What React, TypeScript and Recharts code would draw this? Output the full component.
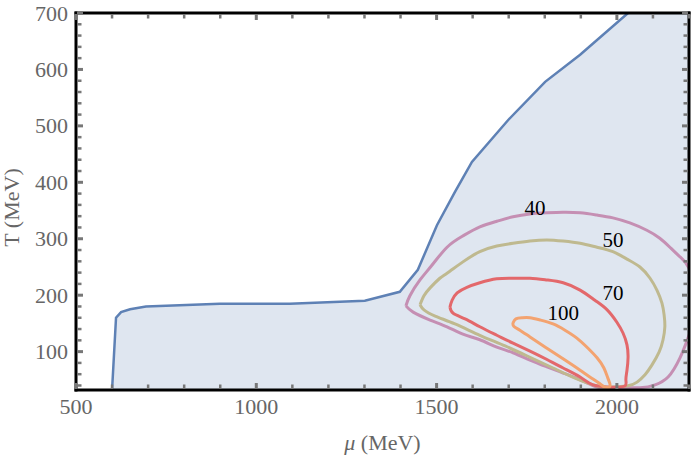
import React from 'react';
import { ComposedChart, Area, Line, XAxis, YAxis, ReferenceDot } from 'recharts';

// phase boundary (blue) – mu in MeV, T in MeV
const blueMu = [600, 611, 625, 650, 694, 899, 1093, 1301, 1398, 1448, 1501, 1551, 1598, 1698, 1801, 1898, 2031];
const blueT = [32, 160, 170, 175, 180, 185, 185, 190, 206, 245, 324, 383, 436, 510, 578, 626, 700];
// top-right corner closes the shaded region
const shadeCornerMu = [2200];
const shadeCornerT = [700];

// contour 40
const c40Mu = [1415, 1426, 1454, 1487, 1529, 1573, 1620, 1667, 1712, 1759, 1806, 1851, 1898, 1945, 1989, 2036, 2083, 2119, 2147, 2175, 2200, 2222, 2200, 2175, 2142, 2106, 2064, 1981, 1945, 1898, 1851, 1806, 1759, 1712, 1667, 1620, 1573, 1529, 1482, 1435, 1415];
const c40T = [181, 199, 227, 253, 285, 305, 321, 331, 339, 344, 346, 347, 346, 342, 337, 328, 315, 301, 285, 268, 248, 191, 129, 89, 55, 41, 36, 36, 37, 50, 62, 73, 85, 98, 108, 121, 131, 144, 156, 170, 181];
// contour 50
const c50Mu = [1454, 1465, 1482, 1509, 1529, 1573, 1620, 1667, 1712, 1759, 1806, 1851, 1898, 1945, 1989, 2028, 2064, 2092, 2111, 2125, 2131, 2133, 2128, 2117, 2097, 2078, 2056, 2028, 1981, 1945, 1884, 1823, 1759, 1690, 1620, 1551, 1496, 1465, 1454];
const c50T = [183, 199, 213, 230, 239, 259, 277, 287, 292, 296, 298, 296, 292, 285, 277, 264, 250, 230, 209, 186, 165, 144, 121, 99, 76, 59, 46, 39, 37, 39, 53, 71, 90, 110, 129, 149, 163, 174, 183];
// contour 70
const c70Mu = [1537, 1543, 1557, 1584, 1620, 1667, 1712, 1759, 1806, 1851, 1898, 1939, 1973, 2000, 2017, 2028, 2031, 2028, 2025, 2022, 1986, 1934, 1898, 1851, 1806, 1759, 1712, 1667, 1620, 1579, 1546, 1537];
const c70T = [179, 191, 204, 214, 222, 229, 230, 230, 227, 222, 209, 191, 174, 152, 133, 112, 90, 67, 50, 39, 37, 41, 55, 71, 86, 101, 115, 129, 144, 158, 168, 179];
// contour 100
const c100Mu = [1712, 1720, 1737, 1759, 1787, 1823, 1856, 1889, 1920, 1945, 1964, 1975, 1981, 1967, 1953, 1925, 1898, 1856, 1806, 1759, 1731, 1714, 1712];
const c100T = [151, 158, 160, 160, 156, 149, 138, 124, 106, 89, 71, 53, 39, 37, 43, 55, 67, 85, 106, 126, 138, 145, 151];

const contourLabels = ['40', '50', '70', '100'];
const contourLabelMu = [1773, 1989, 1989, 1851];
const contourLabelT = [356, 298, 204, 170];

const xTicks = [500, 600, 700, 800, 900, 1000, 1100, 1200, 1300, 1400, 1500, 1600, 1700, 1800, 1900, 2000, 2100, 2200];
const xLabeled = [500, 1000, 1500, 2000];
const yTicks = [40, 60, 80, 100, 120, 140, 160, 180, 200, 220, 240, 260, 280, 300, 320, 340, 360, 380, 400, 420, 440, 460, 480, 500, 520, 540, 560, 580, 600, 620, 640, 660, 680, 700];
const yLabeled = [100, 200, 300, 400, 500, 600, 700];

const zip = (mu: number[], T: number[]) => mu.map((m, i) => ({ mu: m, T: T[i] }));

const blueData = zip(blueMu, blueT);
const shadeData = [...blueData, ...zip(shadeCornerMu, shadeCornerT)];
const contours = [
  { key: 'c40', data: zip(c40Mu, c40T), color: '#c58fb3' },
  { key: 'c50', data: zip(c50Mu, c50T), color: '#bfb98f' },
  { key: 'c70', data: zip(c70Mu, c70T), color: '#e3686b' },
  { key: 'c100', data: zip(c100Mu, c100T), color: '#f3a370' },
];

const SERIF = '"Liberation Serif", "DejaVu Serif", serif';
const TICK_COLOR = '#777';
const LABEL_COLOR = '#666';
const FRAME = { stroke: '#000', strokeWidth: 3, strokeLinecap: 'square' as const };

// inward-pointing frame ticks, drawn from the axis edge
const tickMark = (x1: number, y1: number, dx: number, dy: number, major: boolean) => {
  const len = major ? 6 : 4.5;
  return (
    <line
      x1={x1}
      y1={y1}
      x2={x1 + dx * len}
      y2={y1 + dy * len}
      stroke={TICK_COLOR}
      strokeWidth={major ? 3 : 2.5}
    />
  );
};

const BottomTick = (props: any) => {
  const { x, y, payload } = props;
  const major = xLabeled.includes(payload.value);
  return (
    <g>
      {tickMark(x, y - 1, 0, -1, major)}
      {major && (
        <text x={x} y={y + 24} textAnchor="middle" fill={LABEL_COLOR} fontFamily={SERIF} fontSize={22}>
          {payload.value}
        </text>
      )}
    </g>
  );
};

const TopTick = (props: any) => {
  const { x, y, payload } = props;
  return tickMark(x, y + 1, 0, 1, payload.value % 500 === 0);
};

const LeftTick = (props: any) => {
  const { x, y, payload } = props;
  const major = yLabeled.includes(payload.value);
  return (
    <g>
      {tickMark(x + 1, y, 1, 0, major)}
      {major && (
        <text x={x - 8} y={y + 7.5} textAnchor="end" fill={LABEL_COLOR} fontFamily={SERIF} fontSize={22}>
          {payload.value}
        </text>
      )}
    </g>
  );
};

const RightTick = (props: any) => {
  const { x, y, payload } = props;
  return tickMark(x - 1, y, -1, 0, payload.value % 100 === 0);
};

const XTitle = (props: any) => {
  const { x, y, width } = props.viewBox;
  return (
    <text x={x + width / 2} y={y + 60} textAnchor="middle" fill={LABEL_COLOR} fontFamily={SERIF} fontSize={22}>
      <tspan fontStyle="italic">μ</tspan> (MeV)
    </text>
  );
};

const YTitle = (props: any) => {
  const { y, height } = props.viewBox;
  const cx = 19;
  const cy = y + height / 2 + 6;
  return (
    <text
      x={cx}
      y={cy}
      transform={`rotate(-90 ${cx} ${cy})`}
      textAnchor="middle"
      fill={LABEL_COLOR}
      fontFamily={SERIF}
      fontSize={22}
    >
      T (MeV)
    </text>
  );
};

const App: React.FC = () => {
  return (
    <div style={{ position: 'absolute', left: 0, top: 0, background: '#fff' }}>
      <ComposedChart width={692} height={460} margin={{ top: 0, right: 0, bottom: 0, left: 0 }}>
        <XAxis
          xAxisId="b"
          dataKey="mu"
          type="number"
          domain={[500, 2200]}
          allowDataOverflow
          ticks={xTicks}
          interval={0}
          height={70}
          tickSize={0}
          tickMargin={0}
          tickLine={false}
          axisLine={FRAME}
          tick={<BottomTick />}
          label={<XTitle />}
        />
        <XAxis
          xAxisId="t"
          orientation="top"
          dataKey="mu"
          type="number"
          domain={[500, 2200]}
          allowDataOverflow
          ticks={xTicks}
          interval={0}
          height={13}
          tickSize={0}
          tickMargin={0}
          tickLine={false}
          axisLine={FRAME}
          tick={<TopTick />}
        />
        <YAxis
          yAxisId="l"
          dataKey="T"
          type="number"
          domain={[32, 700]}
          allowDataOverflow
          ticks={yTicks}
          interval={0}
          width={76}
          tickSize={0}
          tickMargin={0}
          tickLine={false}
          axisLine={FRAME}
          tick={<LeftTick />}
          label={<YTitle />}
        />
        <YAxis
          yAxisId="r"
          orientation="right"
          dataKey="T"
          type="number"
          domain={[32, 700]}
          allowDataOverflow
          ticks={yTicks}
          interval={0}
          width={3}
          tickSize={0}
          tickMargin={0}
          tickLine={false}
          axisLine={FRAME}
          tick={<RightTick />}
        />
        {/* shaded region right of / below the boundary */}
        <Area
          xAxisId="b"
          yAxisId="l"
          data={shadeData}
          dataKey="T"
          type="linear"
          stroke="none"
          fill="#5e81b5"
          fillOpacity={0.2}
          isAnimationActive={false}
        />
        <Line
          xAxisId="b"
          yAxisId="l"
          data={blueData}
          dataKey="T"
          type="linear"
          stroke="#5e81b5"
          strokeWidth={2.5}
          dot={false}
          isAnimationActive={false}
        />
        {contours.map((c) => (
          <Line
            key={c.key}
            xAxisId="b"
            yAxisId="l"
            data={c.data}
            dataKey="T"
            type="natural"
            stroke={c.color}
            strokeWidth={3}
            strokeLinejoin="round"
            dot={false}
            isAnimationActive={false}
          />
        ))}
        {contourLabels.map((text, i) => (
          <ReferenceDot
            key={text}
            xAxisId="b"
            yAxisId="l"
            x={contourLabelMu[i]}
            y={contourLabelT[i]}
            r={0}
            stroke="none"
            label={{ value: text, position: 'center', fill: '#000', fontFamily: SERIF, fontSize: 21 }}
          />
        ))}
      </ComposedChart>
    </div>
  );
};

export default App;
